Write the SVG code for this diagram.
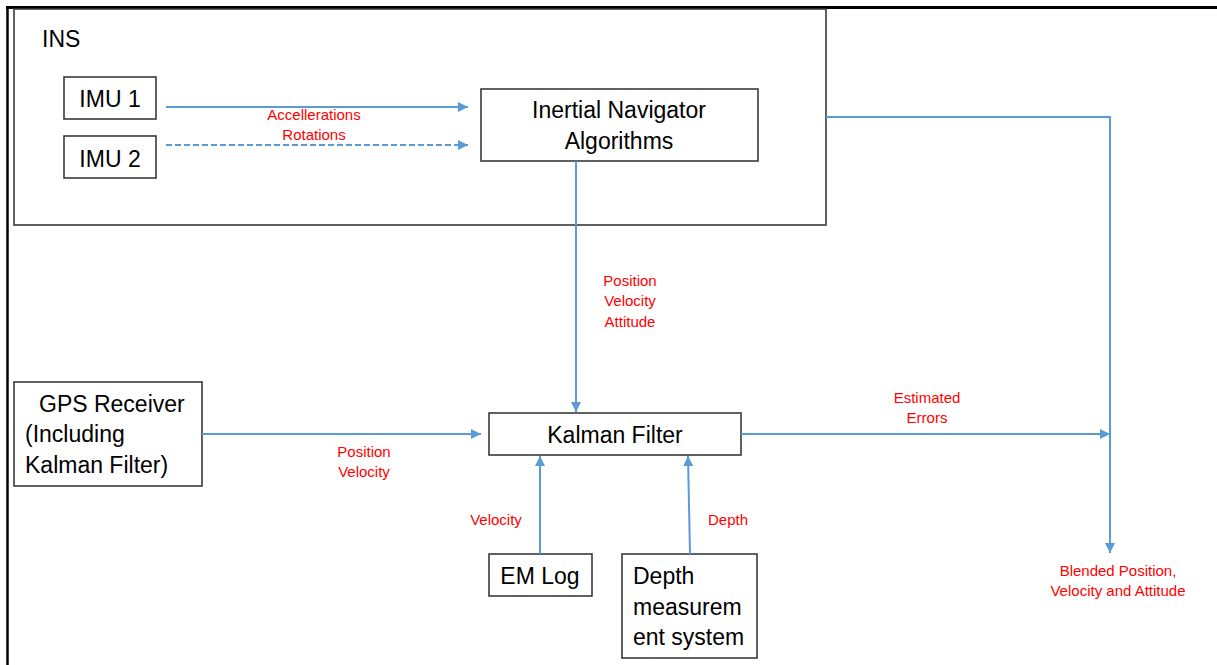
<svg xmlns="http://www.w3.org/2000/svg" width="1217" height="665" viewBox="0 0 1217 665">
  <style>
    .box { fill: #ffffff; stroke: #3a3a3a; stroke-width: 1.6; }
    .lbl { font-family: "Liberation Sans", Arial, sans-serif; font-size: 23px; fill: #000000; }
    .note { font-family: "Liberation Sans", Arial, sans-serif; font-size: 15px; fill: #ff0000; text-anchor: middle; }
    .link { fill: none; stroke: #5b9bd5; stroke-width: 2; }
    .dash { stroke-dasharray: 6 3; }
    .frame { stroke: #000000; fill: none; }
  </style>
  <defs>
    <marker id="arrow" viewBox="0 0 10 10" refX="10" refY="5" markerWidth="5" markerHeight="5" orient="auto" markerUnits="strokeWidth">
      <path d="M0,0 L10,5 L0,10 z" fill="#5b9bd5"/>
    </marker>
  </defs>

  <rect width="1217" height="665" fill="#ffffff"/>

  <!-- page frame -->
  <g id="frame">
    <line class="frame" x1="6" y1="7.5" x2="1217" y2="7.5" stroke-width="3"/>
    <line class="frame" x1="7.5" y1="6" x2="7.5" y2="665" stroke-width="2.5"/>
  </g>

  <!-- INS container -->
  <g id="ins">
    <rect class="box" x="14" y="9" width="812" height="216"/>
    <text class="lbl" x="42" y="47" font-size="21">INS</text>
  </g>

  <g id="imu1">
    <rect class="box" x="64" y="77" width="92" height="42"/>
    <text class="lbl" x="110" y="107" text-anchor="middle">IMU 1</text>
  </g>

  <g id="imu2">
    <rect class="box" x="64" y="136" width="92" height="42"/>
    <text class="lbl" x="110" y="167" text-anchor="middle">IMU 2</text>
  </g>

  <g id="nav">
    <rect class="box" x="481" y="89" width="277" height="72"/>
    <text class="lbl" x="619" y="118" text-anchor="middle">Inertial Navigator</text>
    <text class="lbl" x="619" y="149" text-anchor="middle">Algorithms</text>
  </g>

  <g id="gps">
    <rect class="box" x="14" y="382" width="188" height="104"/>
    <text class="lbl" x="39" y="412">GPS Receiver</text>
    <text class="lbl" x="25" y="442">(Including</text>
    <text class="lbl" x="25" y="473">Kalman Filter)</text>
  </g>

  <g id="kalman">
    <rect class="box" x="489" y="413" width="252" height="42"/>
    <text class="lbl" x="615" y="443" text-anchor="middle">Kalman Filter</text>
  </g>

  <g id="emlog">
    <rect class="box" x="489" y="554" width="103" height="42"/>
    <text class="lbl" x="540" y="584" text-anchor="middle">EM Log</text>
  </g>

  <g id="depth">
    <rect class="box" x="622" y="554" width="135" height="104"/>
    <text class="lbl" x="633" y="584">Depth</text>
    <text class="lbl" x="633" y="615">measurem</text>
    <text class="lbl" x="633" y="645">ent system</text>
  </g>

  <!-- connectors -->
  <g id="connectors">
    <line class="link" x1="166" y1="107" x2="468" y2="107" marker-end="url(#arrow)"/>
    <line class="link dash" x1="166" y1="145" x2="468" y2="145" marker-end="url(#arrow)"/>
    <line class="link" x1="576" y1="161" x2="576" y2="412" marker-end="url(#arrow)"/>
    <line class="link" x1="202" y1="434" x2="481" y2="434" marker-end="url(#arrow)"/>
    <polyline class="link" points="826,117 1110,117 1110,553" marker-end="url(#arrow)"/>
    <line class="link" x1="741" y1="434" x2="1110" y2="434" marker-end="url(#arrow)"/>
    <line class="link" x1="540" y1="554" x2="540" y2="456" marker-end="url(#arrow)"/>
    <line class="link" x1="690" y1="554" x2="688" y2="456" marker-end="url(#arrow)"/>
  </g>

  <!-- flow labels -->
  <g id="labels">
    <text class="note" x="314" y="120">Accellerations</text>
    <text class="note" x="314" y="140">Rotations</text>
    <text class="note" x="630" y="286">Position</text>
    <text class="note" x="630" y="306">Velocity</text>
    <text class="note" x="630" y="327">Attitude</text>
    <text class="note" x="364" y="457">Position</text>
    <text class="note" x="364" y="477">Velocity</text>
    <text class="note" x="927" y="403">Estimated</text>
    <text class="note" x="927" y="423">Errors</text>
    <text class="note" x="496" y="525">Velocity</text>
    <text class="note" x="728" y="525">Depth</text>
    <text class="note" x="1118" y="576">Blended Position,</text>
    <text class="note" x="1118" y="596">Velocity and Attitude</text>
  </g>
</svg>
